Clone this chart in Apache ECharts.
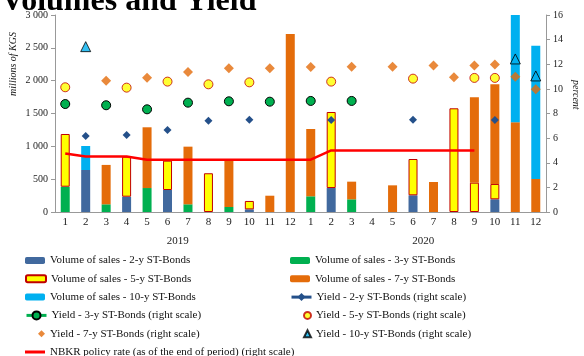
<!DOCTYPE html>
<html>
<head>
<meta charset="utf-8">
<script src="https://cdn.jsdelivr.net/npm/echarts@6/dist/echarts.min.js"></script>
<style>
  html, body { margin: 0; padding: 0; background: #fff; }
  #chart { width: 584px; height: 356px; }
</style>
</head>
<body>
<div id="chart"></div>
<script>
// months of 2019 and 2020
var months = ['1','2','3','4','5','6','7','8','9','10','11','12','1','2','3','4','5','6','7','8','9','10','11','12'];
var years = ['2019', '2020'];

// volume of sales, millions of KGS
var vol2y  = [null,640,null,233,null,335,null,null,null,40,null,null, null,365,null,null,null,254,null,null,null,193,null,null];
var vol3y  = [385,null,117,null,365,null,117,null,76,null,null,null, 239,null,193,null,null,null,null,null,null,null,null,null];
var vol5y  = [803,null,null,610,null,447,null,590,null,128,null,null, null,1158,null,null,null,553,null,1579,447,234,null,null];
var vol7y  = [null,null,600,null,925,null,878,null,716,null,248,2710, 1025,null,269,null,406,null,457,null,1300,1518,1366,503];
var vol10y = [null,365,null,null,null,null,null,null,null,null,null,null, null,null,null,null,null,null,null,null,null,null,1634,2030];

// yields, percent
var yld2y  = [null,6.17,null,6.25,null,6.66,null,7.42,null,7.5,null,null, null,7.47,null,null,null,7.5,null,null,null,7.47,null,null];
var yld3y  = [8.77,null,8.67,null,8.34,null,8.88,null,8.99,null,8.96,null, 9.02,null,9.02,null,null,null,null,null,null,null,null,null];
var yld5y  = [10.13,null,null,10.1,null,10.59,null,10.37,null,10.53,null,null, null,10.59,null,null,null,10.83,null,null,10.89,10.89,null,null];
var yld7y  = [null,null,10.67,null,10.91,null,11.37,null,11.67,null,11.67,null, 11.78,null,11.8,null,11.8,null,11.89,10.94,11.89,11.97,10.99,9.97];
var yld10y = [null,13.43,null,null,null,null,null,null,null,null,null,null, null,null,null,null,null,null,null,null,null,null,12.43,11.05];
var policyRate = [4.75,4.5,4.5,4.5,4.25,4.25,4.25,4.25,4.25,4.25,4.25,4.25, 4.25,5,5,5,5,5,5,5,5,null,null,null];

var leftTicks = [0, 3000, 500];
var rightTicks = [0, 16, 2];

var FONT = '"Liberation Serif", "DejaVu Serif", serif';
var myChart = echarts.init(document.getElementById('chart'));

function bar(name, data, color, border) {
    return {
        name: name, type: 'bar', stack: 'vol', data: data, barWidth: 9,
        itemStyle: {color: color, borderColor: border || color, borderWidth: border ? 1 : 0}
    };
}
function dots(name, type, data, symbol, size, color, border) {
    return {
        name: name, type: type, yAxisIndex: 1, data: data, symbol: symbol, symbolSize: size,
        showSymbol: true, z: 5,
        lineStyle: {opacity: 0},
        itemStyle: {color: color, borderColor: border || color, borderWidth: border ? 1 : 0}
    };
}

var names = [
    'Volume of sales - 2-y ST-Bonds', 'Volume of sales - 3-y ST-Bonds',
    'Volume of sales - 5-y ST-Bonds', 'Volume of sales - 7-y ST-Bonds',
    'Volume of sales - 10-y ST-Bonds', 'Yield - 2-y ST-Bonds (right scale)',
    'Yield - 3-y ST-Bonds (right scale)', 'Yield - 5-y ST-Bonds (right scale)',
    'Yield - 7-y ST-Bonds (right scale)', 'Yield - 10-y ST-Bonds (right scale)',
    'NBKR policy rate (as of the end of period) (right scale)'
];

// legend: two columns, one legend component per item
var legends = names.map(function (n, i) {
    var col = i % 2, row = Math.floor(i / 2);
    var small = (i === 7 || i === 8 || i === 9);
    var w = small ? 7 : 20;
    var textX = col ? 310 : 45;
    var lg = {
        data: [n], left: textX - 5 - w, top: 250 + row * 18.3,
        itemWidth: w, itemHeight: (i === 5 || i === 6) ? 10 : 7,
        textStyle: {fontFamily: FONT, fontSize: 11, color: '#111'},
        selectedMode: false
    };
    if (i === 5 || i === 6) lg.lineStyle = {opacity: 1, width: 3};
    if (i === 10) {
        lg.data = [{name: n, icon: 'rect'}];
        lg.itemHeight = 3;
    }
    return lg;
});

var option = {
    backgroundColor: '#fff',
    animation: false,
    title: {
        text: 'Volumes and Yield', left: -4, top: -19,
        textStyle: {fontFamily: FONT, fontSize: 32, fontWeight: 'bold', color: '#000'}
    },
    grid: {left: 55, right: 38, top: 15, bottom: 144},
    legend: legends,
    xAxis: [
        {
            type: 'category', data: months, position: 'bottom',
            axisLine: {lineStyle: {color: '#999'}},
            axisTick: {interval: 0, length: 16, lineStyle: {color: '#999'}},
            axisLabel: {interval: 0, margin: 5, fontFamily: FONT, fontSize: 11, color: '#222'}
        },
        {
            type: 'category', data: years, position: 'bottom',
            axisLine: {show: false},
            axisTick: {interval: 0, length: 36, lineStyle: {color: '#999'}},
            axisLabel: {interval: 0, margin: 24, fontFamily: FONT, fontSize: 11, color: '#222'}
        }
    ],
    yAxis: [
        {
            type: 'value', min: leftTicks[0], max: leftTicks[1], interval: leftTicks[2],
            splitLine: {show: false},
            axisLine: {show: true, lineStyle: {color: '#999'}},
            axisTick: {show: true, length: 4, lineStyle: {color: '#999'}},
            axisLabel: {
                fontFamily: FONT, fontSize: 10, color: '#222', margin: 7,
                formatter: function (v) { return String(v).replace(/\B(?=(\d{3})+(?!\d))/g, ' '); }
            }
        },
        {
            type: 'value', min: rightTicks[0], max: rightTicks[1], interval: rightTicks[2],
            position: 'right', splitLine: {show: false},
            axisLine: {show: true, lineStyle: {color: '#999'}},
            axisTick: {show: true, length: 4, lineStyle: {color: '#999'}},
            axisLabel: {fontFamily: FONT, fontSize: 10, color: '#222', margin: 7}
        }
    ],
    graphic: [
        {type: 'text', left: 8, top: 32, rotation: Math.PI / 2,
            style: {text: 'millions of KGS', font: 'italic 10px ' + FONT, fill: '#222'}},
        {type: 'text', left: 571, top: 80, rotation: -Math.PI / 2,
            style: {text: 'percent', font: 'italic 10px ' + FONT, fill: '#222'}}
    ],
    series: [
        bar(names[0], vol2y, '#41699e'),
        bar(names[1], vol3y, '#00b050'),
        bar(names[2], vol5y, '#ffff00', '#c00000'),
        bar(names[3], vol7y, '#e46c0a'),
        bar(names[4], vol10y, '#00b0f0'),
        dots(names[5], 'line', yld2y, 'diamond', 8, '#24508a'),
        dots(names[6], 'line', yld3y, 'circle', 9, '#00b050', '#000'),
        dots(names[7], 'scatter', yld5y, 'circle', 9, '#ffff00', '#c00000'),
        dots(names[8], 'scatter', yld7y, 'diamond', 10, '#e46c0a'),
        dots(names[9], 'scatter', yld10y, 'triangle', 10, '#00b0f0', '#000'),
        {
            name: names[10], type: 'line', yAxisIndex: 1, data: policyRate,
            showSymbol: false, symbol: 'none', z: 4,
            lineStyle: {color: '#ff0000', width: 2.5}, itemStyle: {color: '#ff0000'}
        }
    ]
};

myChart.setOption(option);
</script>
</body>
</html>
